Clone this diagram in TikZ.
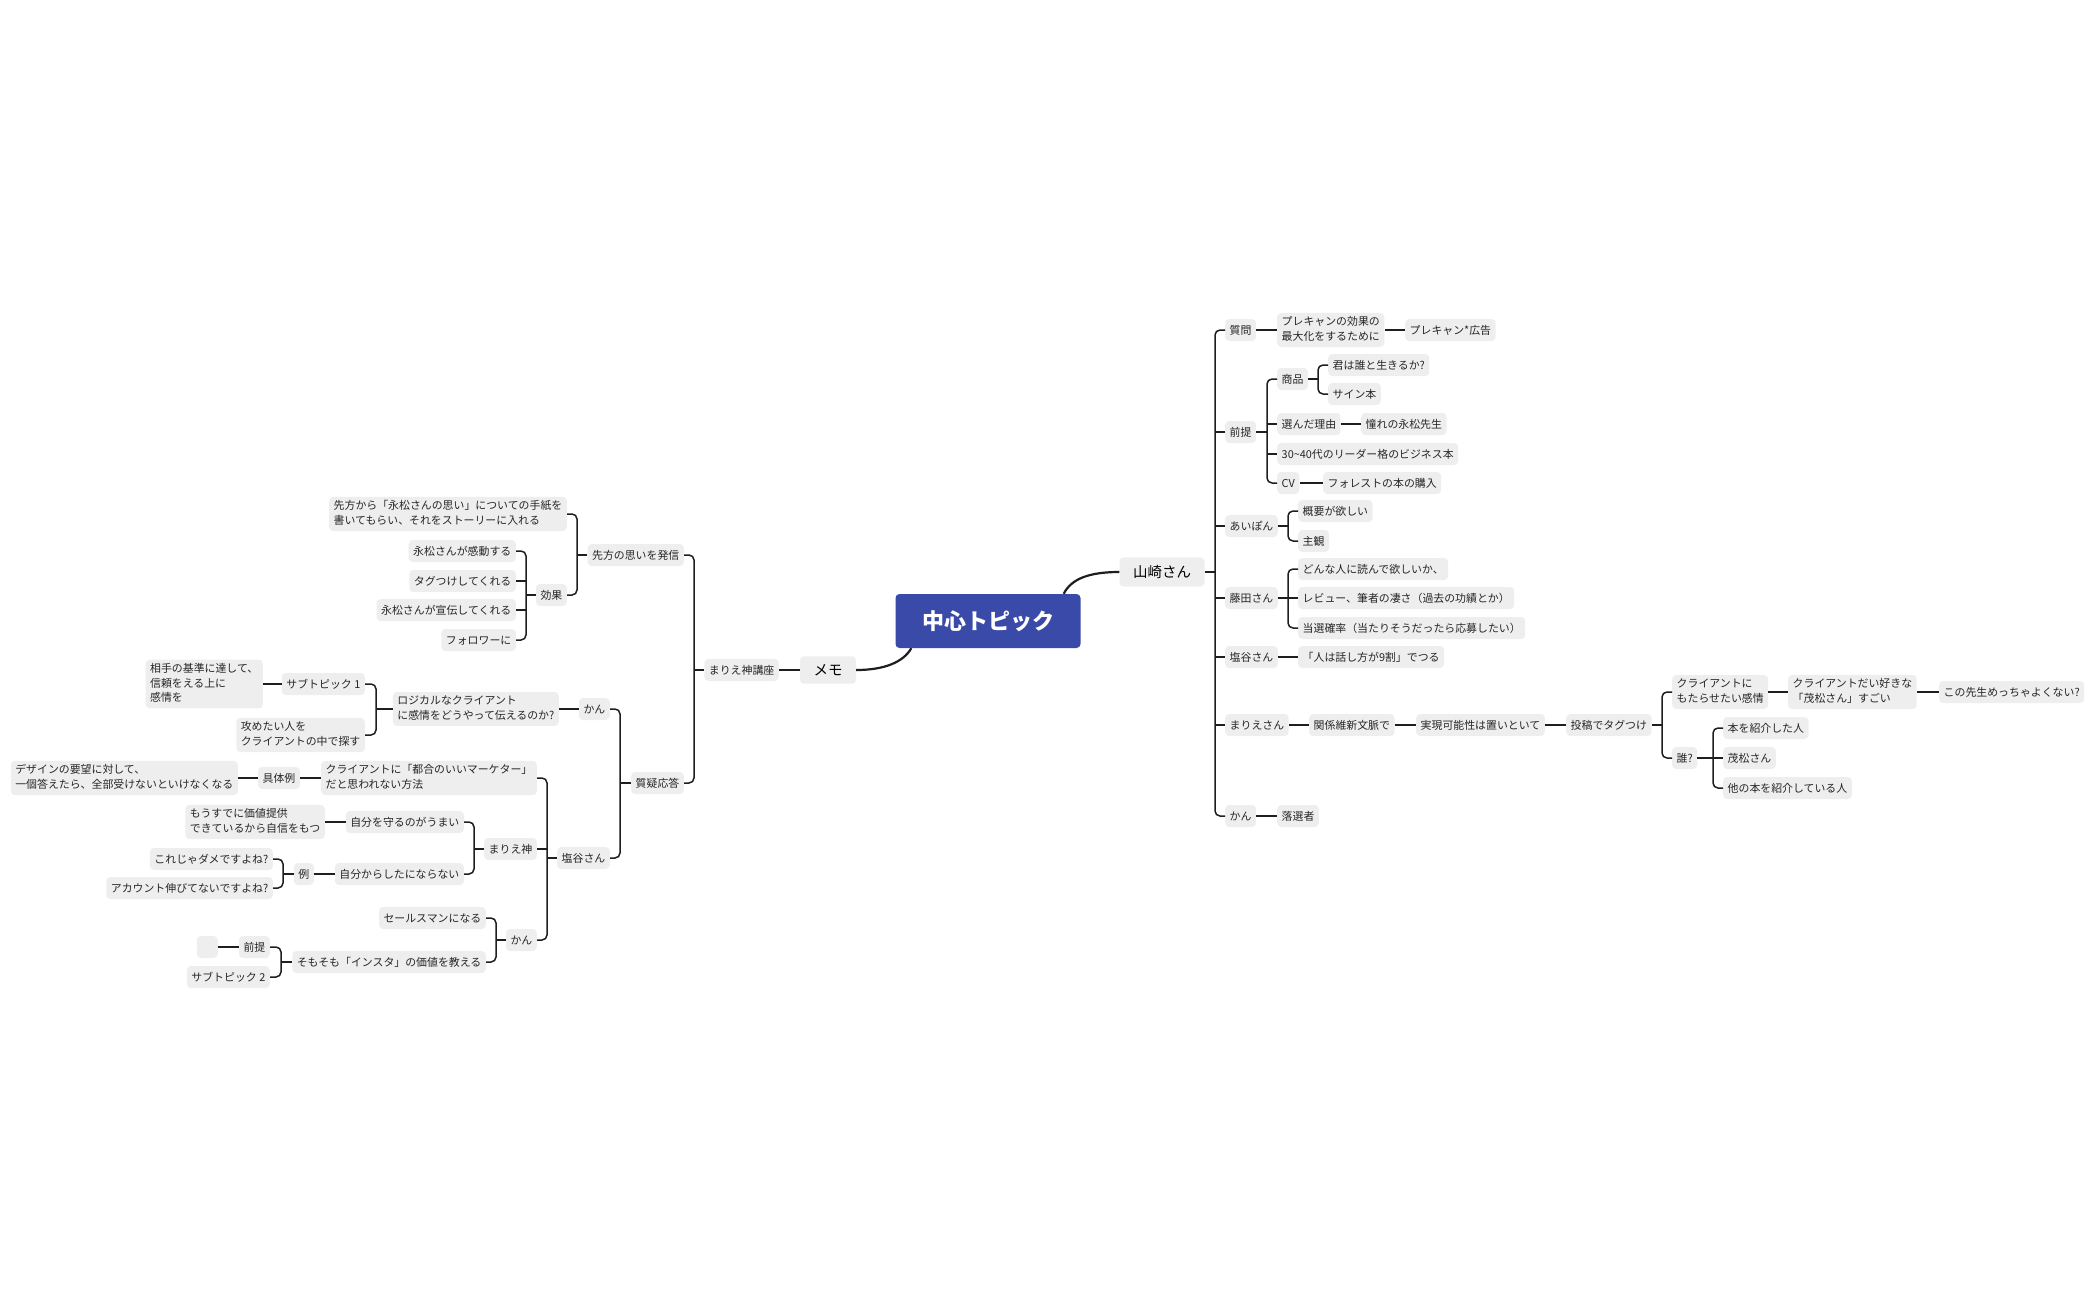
\documentclass[tikz,border=0pt]{standalone}
\usepackage{fontspec}
\setmainfont{Noto Sans CJK JP}
\usepackage{tikz}
\usetikzlibrary{positioning,calc}
\definecolor{cfondo}{HTML}{EEEEEE}
\definecolor{clinea}{HTML}{1E1E1E}
\definecolor{ctexto}{HTML}{262626}
\definecolor{cazul}{HTML}{3A4AA8}
\newcommand{\puntal}{\rule[-2.9pt]{0pt}{14.5pt}}
\tikzset{
  caja/.style={rectangle, rounded corners=4pt, fill=cfondo, text=ctexto,
    inner xsep=4.5pt, inner ysep=3.75pt, align=left,
    font=\fontsize{10.9}{14.5}\selectfont,
    execute at begin node=\puntal, execute at end node=\puntal},
  cajad/.style={caja, anchor=west},
  cajai/.style={caja, anchor=east},
  cajam/.style={rectangle, rounded corners=4pt, fill=cfondo, text=black,
    inner xsep=13.5pt, inner ysep=8pt, font=\fontsize{14.5}{17}\selectfont},
  raiz/.style={rectangle, rounded corners=4pt, fill=cazul, text=white,
    minimum width=185pt, minimum height=54pt, font=\fontsize{22}{26}\selectfont\bfseries},
  rama/.style={draw=clinea, line width=1.5pt, rounded corners=5pt},
  tronco/.style={draw=clinea, line width=2.2pt},
}

\begin{document}
\begin{tikzpicture}[x=1pt, y=-1pt]
  \useasboundingbox (0,0) rectangle (2100,1300);
  \node[raiz] (cen) at (988,621) {中心トピック};
  \node[cajam] (yam) at (1162,572) {山崎さん};
  \node[cajam] (memo) at (828,670) {メモ};
  \coordinate (cy) at ($(cen.north east)+(-17,0)$);
  \coordinate (cm) at ($(cen.south west)+(16,0)$);
  \draw[tronco] (cy) .. controls +(8,-16) and +(-28,0) .. (yam.west);
  \draw[tronco] (cm) .. controls +(-8,14) and +(28,0) .. (memo.east);

  \node[cajad] (q) at (1225,330) {質問};
  \node[cajad] (qa) at (1277,330) {プレキャンの効果の\\最大化をするために};
  \node[cajad] (qb) at (1405,330) {プレキャン*広告};
  \node[cajad] (pre) at (1225,432) {前提};
  \node[cajad] (goods) at (1277,379) {商品};
  \node[cajad] (g1) at (1328,365) {君は誰と生きるか?};
  \node[cajad] (g2) at (1328,394) {サイン本};
  \node[cajad] (why) at (1277,424) {選んだ理由};
  \node[cajad] (why1) at (1361,424) {憧れの永松先生};
  \node[cajad] (biz) at (1277,454) {30\textasciitilde40代のリーダー格のビジネス本};
  \node[cajad] (cv) at (1277,483) {CV};
  \node[cajad] (cv1) at (1323,483) {フォレストの本の購入};
  \node[cajad] (aip) at (1225,526) {あいぽん};
  \node[cajad] (a1) at (1298,511) {概要が欲しい};
  \node[cajad] (a2) at (1298,541) {主観};
  \node[cajad] (fuj) at (1225,598) {藤田さん};
  \node[cajad] (f1) at (1298,569) {どんな人に読んで欲しいか、};
  \node[cajad] (f2) at (1298,598) {レビュー、筆者の凄さ（過去の功績とか）};
  \node[cajad] (f3) at (1298,628) {当選確率（当たりそうだったら応募したい）};
  \node[cajad] (shi) at (1225,657) {塩谷さん};
  \node[cajad] (s1) at (1298,657) {「人は話し方が9割」でつる};
  \node[cajad] (mar) at (1225,725) {まりえさん};
  \node[cajad] (m1) at (1309,725) {関係維新文脈で};
  \node[cajad] (m2) at (1416,725) {実現可能性は置いといて};
  \node[cajad] (m3) at (1566,725) {投稿でタグつけ};
  \node[cajad] (m4) at (1672,692) {クライアントに\\もたらせたい感情};
  \node[cajad] (m5) at (1788,692) {クライアントだい好きな\\「茂松さん」すごい};
  \node[cajad] (m6) at (1939,692) {この先生めっちゃよくない?};
  \node[cajad] (who) at (1672,758) {誰?};
  \node[cajad] (w1) at (1723,728) {本を紹介した人};
  \node[cajad] (w2) at (1723,758) {茂松さん};
  \node[cajad] (w3) at (1723,788) {他の本を紹介している人};
  \node[cajad] (kan) at (1225,816) {かん};
  \node[cajad] (k1) at (1277,816) {落選者};

  \coordinate (t0) at ($(q.west)+(-10,0)$);
  \draw[rama] (q.west) -- (q.west -| t0) -- (kan.west -| t0) -- (kan.west);
  \draw[rama] (yam.east) -- (yam.east -| t0);
  \foreach \n in {pre,aip,fuj,shi,mar} \draw[rama] (\n.west -| t0) -- (\n.west);
  \draw[rama] (q) -- (qa); \draw[rama] (qa) -- (qb);
  \coordinate (t1) at ($(goods.west)+(-10,0)$);
  \draw[rama] (goods.west) -- (goods.west -| t1) -- (cv.west -| t1) -- (cv.west);
  \draw[rama] (pre.east) -- (pre.east -| t1);
  \foreach \n in {why,biz} \draw[rama] (\n.west -| t1) -- (\n.west);
  \coordinate (t2) at ($(g1.west)+(-10,0)$);
  \draw[rama] (g1.west) -- (g1.west -| t2) -- (g2.west -| t2) -- (g2.west);
  \draw[rama] (goods.east) -- (goods.east -| t2);
  \draw[rama] (why) -- (why1); \draw[rama] (cv) -- (cv1);
  \coordinate (t3) at ($(a1.west)+(-10,0)$);
  \draw[rama] (a1.west) -- (a1.west -| t3) -- (a2.west -| t3) -- (a2.west);
  \draw[rama] (aip.east) -- (aip.east -| t3);
  \coordinate (t4) at ($(f1.west)+(-10,0)$);
  \draw[rama] (f1.west) -- (f1.west -| t4) -- (f3.west -| t4) -- (f3.west);
  \draw[rama] (fuj) -- (f2);
  \draw[rama] (shi) -- (s1);
  \draw[rama] (mar) -- (m1); \draw[rama] (m1) -- (m2); \draw[rama] (m2) -- (m3);
  \coordinate (t5) at ($(m4.west)+(-10,0)$);
  \draw[rama] (m4.west) -- (m4.west -| t5) -- (who.west -| t5) -- (who.west);
  \draw[rama] (m3.east) -- (m3.east -| t5);
  \draw[rama] (m4) -- (m5); \draw[rama] (m5) -- (m6);
  \coordinate (t6) at ($(w1.west)+(-10,0)$);
  \draw[rama] (w1.west) -- (w1.west -| t6) -- (w3.west -| t6) -- (w3.west);
  \draw[rama] (who) -- (w2);
  \draw[rama] (kan) -- (k1);

  \node[cajai] (kou) at (779,670) {まりえ神講座};
  \node[cajai] (sen) at (684,555) {先方の思いを発信};
  \node[cajai] (sqa) at (684,783) {質疑応答};
  \node[cajai] (tegami) at (567,514) {先方から「永松さんの思い」についての手紙を\\書いてもらい、それをストーリーに入れる};
  \node[cajai] (kouka) at (567,595) {効果};
  \node[cajai] (e1) at (516,551) {永松さんが感動する};
  \node[cajai] (e2) at (516,581) {タグつけしてくれる};
  \node[cajai] (e3) at (516,610) {永松さんが宣伝してくれる};
  \node[cajai] (e4) at (516,640) {フォロワーに};
  \node[cajai] (kanA) at (610,709) {かん};
  \node[cajai] (logi) at (559,709) {ロジカルなクライアント\\に感情をどうやって伝えるのか?};
  \node[cajai] (sub1) at (365,684) {サブトピック 1};
  \node[cajai] (aite) at (263,684) {相手の基準に達して、\\信頼をえる上に\\感情を};
  \node[cajai] (seme) at (365,735) {攻めたい人を\\クライアントの中で探す};
  \node[cajai] (shiL) at (610,858) {塩谷さん};
  \node[cajai] (tsugo) at (537,778) {クライアントに「都合のいいマーケター」\\だと思われない方法};
  \node[cajai] (gutai) at (300,778) {具体例};
  \node[cajai] (design) at (238,778) {デザインの要望に対して、\\一個答えたら、全部受けないといけなくなる};
  \node[cajai] (mkami) at (537,849) {まりえ神};
  \node[cajai] (mamoru) at (464,822) {自分を守るのがうまい};
  \node[cajai] (mou) at (325,822) {もうすでに価値提供\\できているから自信をもつ};
  \node[cajai] (shita) at (464,874) {自分からしたにならない};
  \node[cajai] (rei) at (314,874) {例};
  \node[cajai] (dame) at (273,859) {これじゃダメですよね?};
  \node[cajai] (acc) at (273,888) {アカウント伸びてないですよね?};
  \node[cajai] (kanB) at (537,940) {かん};
  \node[cajai] (sales) at (486,918) {セールスマンになる};
  \node[cajai] (somo) at (486,962) {そもそも「インスタ」の価値を教える};
  \node[cajai] (zen) at (270,947) {前提};
  \node[cajai, minimum width=21pt] (vac) at (218,947) {};
  \node[cajai] (sub2) at (270,977) {サブトピック 2};

  \draw[rama] (memo) -- (kou);
  \coordinate (l0) at ($(sen.east)+(10,0)$);
  \draw[rama] (sen.east) -- (sen.east -| l0) -- (sqa.east -| l0) -- (sqa.east);
  \draw[rama] (kou.west) -- (kou.west -| l0);
  \coordinate (l1) at ($(tegami.east)+(10,0)$);
  \draw[rama] (tegami.east) -- (tegami.east -| l1) -- (kouka.east -| l1) -- (kouka.east);
  \draw[rama] (sen.west) -- (sen.west -| l1);
  \coordinate (l2) at ($(e1.east)+(10,0)$);
  \draw[rama] (e1.east) -- (e1.east -| l2) -- (e4.east -| l2) -- (e4.east);
  \draw[rama] (kouka.west) -- (kouka.west -| l2);
  \foreach \n in {e2,e3} \draw[rama] (\n.east -| l2) -- (\n.east);
  \coordinate (l3) at ($(kanA.east)+(10,0)$);
  \draw[rama] (kanA.east) -- (kanA.east -| l3) -- (shiL.east -| l3) -- (shiL.east);
  \draw[rama] (sqa.west) -- (sqa.west -| l3);
  \draw[rama] (kanA) -- (logi);
  \coordinate (l4) at ($(sub1.east)+(11,0)$);
  \draw[rama] (sub1.east) -- (sub1.east -| l4) -- (seme.east -| l4) -- (seme.east);
  \draw[rama] (logi.west) -- (logi.west -| l4);
  \draw[rama] (sub1) -- (aite);
  \coordinate (l5) at ($(tsugo.east)+(10,0)$);
  \draw[rama] (tsugo.east) -- (tsugo.east -| l5) -- (kanB.east -| l5) -- (kanB.east);
  \draw[rama] (shiL.west) -- (shiL.west -| l5);
  \draw[rama] (mkami.east -| l5) -- (mkami.east);
  \draw[rama] (tsugo) -- (gutai); \draw[rama] (gutai) -- (design);
  \coordinate (l6) at ($(mamoru.east)+(10,0)$);
  \draw[rama] (mamoru.east) -- (mamoru.east -| l6) -- (shita.east -| l6) -- (shita.east);
  \draw[rama] (mkami.west) -- (mkami.west -| l6);
  \draw[rama] (mamoru) -- (mou); \draw[rama] (shita) -- (rei);
  \coordinate (l7) at ($(dame.east)+(10,0)$);
  \draw[rama] (dame.east) -- (dame.east -| l7) -- (acc.east -| l7) -- (acc.east);
  \draw[rama] (rei.west) -- (rei.west -| l7);
  \coordinate (l8) at ($(sales.east)+(10,0)$);
  \draw[rama] (sales.east) -- (sales.east -| l8) -- (somo.east -| l8) -- (somo.east);
  \draw[rama] (kanB.west) -- (kanB.west -| l8);
  \coordinate (l9) at ($(zen.east)+(11,0)$);
  \draw[rama] (zen.east) -- (zen.east -| l9) -- (sub2.east -| l9) -- (sub2.east);
  \draw[rama] (somo.west) -- (somo.west -| l9);
  \draw[rama] (zen) -- (vac);
\end{tikzpicture}
\end{document}
